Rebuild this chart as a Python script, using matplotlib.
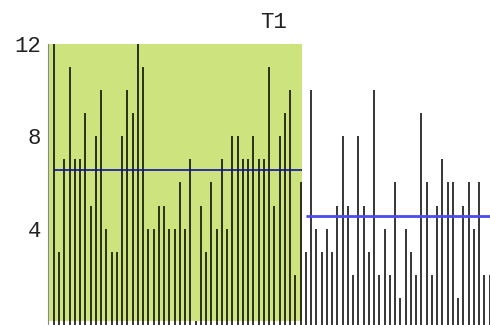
import numpy as np
import matplotlib.pyplot as plt

# stem heights, left block (shaded) then right block
left_vals = [12, 3, 7, 11, 7, 7, 9, 5, 8, 10, 4, 3, 3, 8, 10, 9, 12, 11, 4, 4,
             5, 5, 4, 4, 6, 4, 7, 0, 5, 3, 6, 4, 7, 4, 8, 8, 7, 7, 8, 7,
             7, 11, 5, 8, 9, 10, 2, 6]
right_vals = [3, 10, 4, 3, 4, 3, 5, 8, 5, 2, 8, 5, 3, 10, 2, 4, 2, 6, 1, 4,
              3, 2, 9, 6, 2, 5, 7, 6, 6, 1, 5, 6, 4, 6, 2, 2]
title = 'T1'
yticks = [4, 8, 12]

values = np.array(left_vals + right_vals)
x = np.arange(1, len(values) + 1)
n_left = len(left_vals)

fig = plt.figure(figsize=(4.9, 3.25), dpi=100)
ax = fig.add_axes([48 / 490, 0.0, 1 - 48 / 490, (325 - 44) / 325])

ybot = -4 / 23.08
ax.set_xlim(-0.14, len(values) + 0.05)
ax.set_ylim(ybot, 12)

# shaded block behind the first group
ax.axvspan(0.05, n_left + 0.2, ymin=-ybot / (12 - ybot), ymax=1,
           color='#cde47e', lw=0, zorder=0)

ax.vlines(x, ybot, values, color='black', lw=1.1, zorder=2)

# group means
ax.hlines(np.mean(left_vals), 1, n_left + 0.2, color='#1010a0', lw=1.2, zorder=3)
ax.hlines(np.mean(right_vals), n_left + 1, len(values) + 0.05,
          color='#4a4af0', lw=2, zorder=3)

for s in ['top', 'right', 'bottom']:
    ax.spines[s].set_visible(False)
ax.spines['left'].set_color('#888888')
ax.spines['left'].set_bounds(ybot, 12)
ax.set_xticks([])
ax.set_yticks(yticks)
ax.set_yticklabels([str(t) for t in yticks], family='Liberation Mono', fontsize=16)
ax.tick_params(axis='y', length=0, pad=5, colors='#222222')

fig.text(273 / 490, 1 - 23 / 325, title, family='Liberation Mono', fontsize=16,
         ha='center', va='center', color='#222222')

fig.savefig('out.png', dpi=100)
